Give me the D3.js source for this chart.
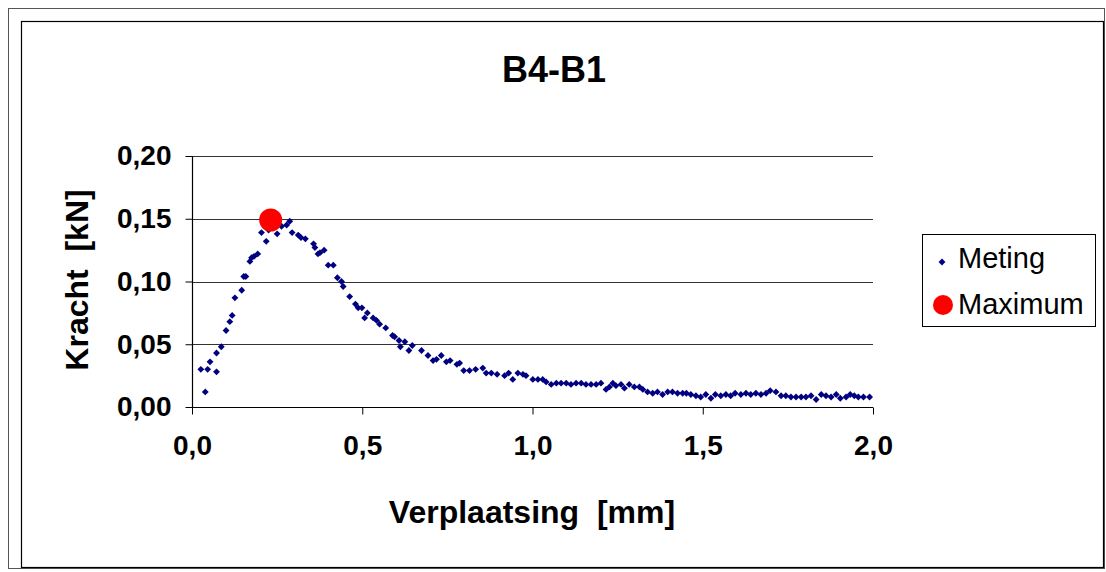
<!DOCTYPE html>
<html>
<head>
<meta charset="utf-8">
<script src="https://cdn.jsdelivr.net/npm/d3@7"></script>
<style>
  body { margin: 0; background: #fff; }
  svg text { font-family: "Liberation Sans", Arial, sans-serif; fill: #000; }
</style>
</head>
<body>
<div id="chart"></div>
<script>
// measured points (displacement in mm, force in kN)
var verplaatsing = [
  0.026, 0.039, 0.046, 0.053, 0.072, 0.072, 0.086, 0.100, 0.111, 0.118, 0.126, 0.146, 0.152, 0.158,
  0.170, 0.175, 0.182, 0.193, 0.204, 0.218, 0.225, 0.232, 0.250, 0.263, 0.278, 0.287,
  0.294, 0.312, 0.320, 0.333, 0.357, 0.361, 0.370, 0.376, 0.388, 0.400, 0.415, 0.427, 0.439, 0.444,
  0.463, 0.480, 0.488, 0.499, 0.507, 0.515, 0.532, 0.542, 0.551,
  0.569, 0.589, 0.595, 0.608, 0.612, 0.625, 0.637, 0.647, 0.674, 0.693, 0.708, 0.718, 0.732, 0.747,
  0.758, 0.778, 0.786, 0.798, 0.815, 0.833, 0.854, 0.864,
  0.879, 0.896, 0.918, 0.930, 0.942, 0.957, 0.972, 0.981, 1.001, 1.016, 1.030, 1.040, 1.055, 1.070,
  1.084, 1.099, 1.113, 1.128, 1.143, 1.157, 1.172, 1.187, 1.201, 1.216, 1.226, 1.236,
  1.245, 1.260, 1.270, 1.284, 1.299, 1.314, 1.324, 1.338, 1.353, 1.367, 1.382, 1.397, 1.411, 1.426,
  1.441, 1.452, 1.465, 1.480, 1.494, 1.509, 1.524, 1.537, 1.553, 1.568, 1.582, 1.595,
  1.612, 1.627, 1.641, 1.656, 1.671, 1.686, 1.698, 1.715, 1.730, 1.744, 1.759, 1.774, 1.789, 1.803,
  1.818, 1.833, 1.848, 1.862, 1.877, 1.892, 1.904, 1.921, 1.933, 1.945, 1.957, 1.972, 1.990
];
var kracht = [
  0.030, 0.012, 0.030, 0.036, 0.028, 0.043, 0.048, 0.061, 0.068, 0.073, 0.087, 0.093, 0.104, 0.104,
  0.116, 0.119, 0.120, 0.122, 0.139, 0.132, 0.141, 0.144, 0.138, 0.144, 0.145, 0.148,
  0.139, 0.137, 0.135, 0.134, 0.130, 0.127, 0.122, 0.123, 0.125, 0.113, 0.113, 0.103, 0.100, 0.096,
  0.088, 0.082, 0.079, 0.079, 0.071, 0.075, 0.071, 0.069, 0.066,
  0.063, 0.057, 0.056, 0.053, 0.048, 0.052, 0.045, 0.049, 0.045, 0.041, 0.037, 0.038, 0.041, 0.036,
  0.037, 0.034, 0.035, 0.029, 0.029, 0.030, 0.031, 0.027,
  0.027, 0.026, 0.025, 0.027, 0.022, 0.027, 0.026, 0.025, 0.022, 0.022, 0.022, 0.020, 0.018, 0.019,
  0.019, 0.019, 0.018, 0.019, 0.019, 0.018, 0.018, 0.018, 0.019, 0.014, 0.016, 0.019,
  0.017, 0.018, 0.015, 0.018, 0.016, 0.016, 0.014, 0.012, 0.011, 0.012, 0.010, 0.012, 0.012, 0.011,
  0.011, 0.011, 0.010, 0.009, 0.008, 0.010, 0.007, 0.010, 0.009, 0.010, 0.009, 0.011,
  0.010, 0.011, 0.010, 0.011, 0.010, 0.011, 0.013, 0.012, 0.009, 0.009, 0.008, 0.008, 0.008, 0.008,
  0.009, 0.006, 0.010, 0.009, 0.008, 0.010, 0.007, 0.008, 0.010, 0.009, 0.008, 0.008, 0.008
];
var maxX = [0.231];
var maxY = [0.149];

var xTicks = [0, 0.5, 1.0, 1.5, 2.0];
var yTicks = [0, 0.05, 0.10, 0.15, 0.20];
var title = "B4-B1";
var xTitle = "Verplaatsing  [mm]";
var yTitle = "Kracht  [kN]";
var seriesNames = ["Meting", "Maximum"];

var W = 1106, H = 572;
var plot = { left: 192, right: 873, top: 156, bottom: 407 };
var comma = d3.formatLocale({ decimal: ",", thousands: ".", grouping: [3], currency: ["", ""] });

var svg = d3.select("#chart").append("svg")
    .attr("width", W)
    .attr("height", H);

// frames
svg.append("rect")
    .attr("x", 8.5).attr("y", 8.5)
    .attr("width", 1096).attr("height", 560)
    .attr("fill", "none").attr("stroke", "#555").attr("stroke-width", 1);
svg.append("rect")
    .attr("x", 21.5).attr("y", 21.5)
    .attr("width", 1082).attr("height", 546)
    .attr("fill", "none").attr("stroke", "#000").attr("stroke-width", 1.2);

var x = d3.scaleLinear().domain([0, 2]).range([plot.left, plot.right]);
var y = d3.scaleLinear().domain([0, 0.2]).range([plot.bottom, plot.top]);

// gridlines
svg.append("g")
    .selectAll("line")
    .data(yTicks.slice(1))
    .enter()
    .append("line")
    .attr("x1", plot.left).attr("x2", plot.right)
    .attr("y1", function (d) { return Math.round(y(d)) + 0.5; })
    .attr("y2", function (d) { return Math.round(y(d)) + 0.5; })
    .attr("stroke", "#333").attr("stroke-width", 1);

// axes
var xAxis = svg.append("g")
    .attr("transform", "translate(0," + (plot.bottom + 0.5) + ")")
    .call(d3.axisBottom(x).tickValues(xTicks).tickSize(7).tickPadding(21).tickFormat(comma.format(".1f")));
var yAxis = svg.append("g")
    .attr("transform", "translate(" + (plot.left + 0.5) + ",0)")
    .call(d3.axisLeft(y).tickValues(yTicks).tickSize(7).tickPadding(14).tickFormat(comma.format(".2f")));

[xAxis, yAxis].forEach(function (a) {
    a.select(".domain").attr("stroke", "#000").attr("stroke-width", 1.2);
    a.selectAll(".tick line").attr("stroke", "#000");
    a.selectAll(".tick text")
        .attr("fill", "#000")
        .style("font-family", "'Liberation Sans', Arial, sans-serif")
        .style("font-size", "28px")
        .style("font-weight", "bold");
});
yAxis.select(".domain").attr("d", "M0," + plot.top + "V" + plot.bottom);
xAxis.select(".domain").attr("d", "M" + plot.left + ",0H" + plot.right);

// titles
svg.append("text")
    .attr("x", 554).attr("y", 82)
    .attr("text-anchor", "middle")
    .style("font-size", "36px").style("font-weight", "bold")
    .text(title);

svg.append("text")
    .attr("x", 532).attr("y", 523)
    .attr("text-anchor", "middle")
    .style("font-size", "32px").style("font-weight", "bold")
    .style("white-space", "pre")
    .text(xTitle);

svg.append("text")
    .attr("transform", "translate(88,280) rotate(-90)")
    .attr("text-anchor", "middle")
    .style("font-size", "32px").style("font-weight", "bold")
    .style("white-space", "pre")
    .text(yTitle);

// data points
var diamond = d3.symbol().type(d3.symbolDiamond2).size(30);
svg.append("g")
    .selectAll("path")
    .data(verplaatsing.map(function (v, i) { return [v, kracht[i]]; }))
    .enter()
    .append("path")
    .attr("d", diamond)
    .attr("transform", function (d) { return "translate(" + x(d[0]) + "," + y(d[1]) + ")"; })
    .attr("fill", "#000080");

svg.append("g")
    .selectAll("circle")
    .data(maxX.map(function (v, i) { return [v, maxY[i]]; }))
    .enter()
    .append("circle")
    .attr("cx", function (d) { return x(d[0]); })
    .attr("cy", function (d) { return y(d[1]); })
    .attr("r", 11.5)
    .attr("fill", "#ff0000");

// legend
var legend = svg.append("g");
legend.append("rect")
    .attr("x", 922.5).attr("y", 234.5)
    .attr("width", 173).attr("height", 92)
    .attr("fill", "#fff").attr("stroke", "#000").attr("stroke-width", 1);
legend.append("path")
    .attr("d", diamond)
    .attr("transform", "translate(942,262)")
    .attr("fill", "#000080");
legend.append("circle")
    .attr("cx", 943).attr("cy", 305).attr("r", 10)
    .attr("fill", "#ff0000");
legend.selectAll("text.lbl")
    .data(seriesNames)
    .enter()
    .append("text")
    .attr("class", "lbl")
    .attr("x", 958)
    .attr("y", function (d, i) { return 268 + i * 46; })
    .style("font-size", "29px")
    .text(function (d) { return d; });
</script>
</body>
</html>
